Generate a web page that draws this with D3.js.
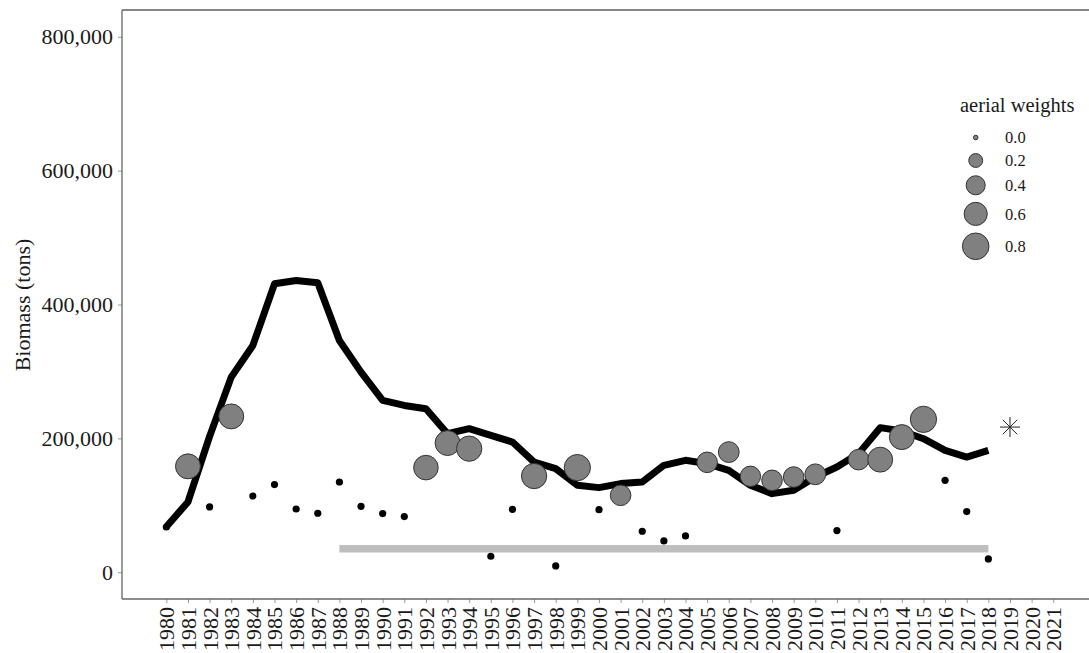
<!DOCTYPE html>
<html>
<head>
<meta charset="utf-8">
<script src="https://cdn.jsdelivr.net/npm/d3@7"></script>
<style>
  html, body { margin: 0; padding: 0; background: #fff; }
  svg { display: block; }
  text { font-family: "Liberation Serif", "Times New Roman", serif; }
</style>
</head>
<body>
<svg id="chart" width="1089" height="653"></svg>
<script>
// ---- data ----
const years = [1980,1981,1982,1983,1984,1985,1986,1987,1988,1989,1990,1991,1992,1993,1994,1995,1996,1997,1998,1999,
               2000,2001,2002,2003,2004,2005,2006,2007,2008,2009,2010,2011,2012,2013,2014,2015,2016,2017,2018];
const biomass = [68000,105000,203000,291500,338800,430900,435800,432400,346300,299000,256700,249200,244300,207000,214500,204500,194500,164600,154800,129800,
                 126400,132400,134800,159700,167200,162200,152200,129800,117400,122400,142300,157200,177200,216000,211000,199500,182000,172100,182000];

const aerialYears   = [1981,1983,1992,1993,1994,1997,1999,2001,2005,2006,2007,2008,2009,2010,2012,2013,2014,2015];
const aerialBiomass = [158200,232800,156300,193000,184600,143700,156300,114900,164200,179500,143300,137300,142200,146300,168200,168200,201900,228400];
const aerialWeights = [0.70,0.70,0.68,0.70,0.72,0.72,0.78,0.47,0.47,0.48,0.46,0.47,0.47,0.48,0.47,0.70,0.70,0.78];

const otherYears   = [1980,1982,1984,1985,1986,1987,1988,1989,1990,1991,1995,1996,1998,2000,2002,2003,2004,2011,2016,2017,2018];
const otherBiomass = [67600,97500,113900,130900,94500,88100,134800,98500,87600,83100,23900,94000,9400,93500,61200,46700,54200,62200,137300,90600,19900];

const barYears = [1988, 2018];
const barValue = 35000;

const starYear = 2019;
const starValue = 216900;

const xTickYears = [1980,1981,1982,1983,1984,1985,1986,1987,1988,1989,1990,1991,1992,1993,1994,1995,1996,1997,1998,1999,2000,
                    2001,2002,2003,2004,2005,2006,2007,2008,2009,2010,2011,2012,2013,2014,2015,2016,2017,2018,2019,2020,2021];
const yTicks = [0, 200000, 400000, 600000, 800000];
const legendWeights = [0.0, 0.2, 0.4, 0.6, 0.8];
const legendLabels = ["0.0", "0.2", "0.4", "0.6", "0.8"];

// ---- layout ----
const svg = d3.select("#chart");
const pLeft = 122, pTop = 10, pBottom = 599;
const x = d3.scaleLinear().domain([1977.95, 2023.05]).range([pLeft, 1097.6]);
const y = d3.scaleLinear().domain([-40000, 840000]).range([pBottom, pTop]);
const r = d3.scaleRadial().domain([0, 0.8]).range([2.3, 13.3]);

// axes
const yAxis = d3.axisLeft(y).tickValues(yTicks).tickSize(4).tickPadding(5)
  .tickFormat(d3.format(","));
const gy = svg.append("g").attr("transform", `translate(${pLeft},0)`).call(yAxis);
gy.select(".domain").remove();
gy.selectAll(".tick line").attr("stroke", "#9a9a9a");
gy.selectAll(".tick text").attr("font-size", 22).attr("fill", "#1a1a1a")
  .attr("font-family", "'Liberation Serif', serif");

const xAxis = d3.axisBottom(x).tickValues(xTickYears).tickSize(4).tickFormat(d3.format("d"));
const gx = svg.append("g").attr("transform", `translate(0,${pBottom})`).call(xAxis);
gx.select(".domain").remove();
gx.selectAll(".tick line").attr("stroke", "#9a9a9a");
gx.selectAll(".tick text")
  .attr("font-size", 22).attr("fill", "#1a1a1a")
  .attr("font-family", "'Liberation Serif', serif")
  .attr("transform", "rotate(-90)")
  .attr("text-anchor", "end")
  .attr("x", -8).attr("y", 0).attr("dy", "0.34em");

// panel lines
svg.append("line").attr("x1", pLeft).attr("x2", 1089).attr("y1", pTop).attr("y2", pTop)
  .attr("stroke", "#111").attr("stroke-width", 1.2);
svg.append("line").attr("x1", pLeft).attr("x2", pLeft).attr("y1", pTop).attr("y2", pBottom)
  .attr("stroke", "#666").attr("stroke-width", 1.3);
svg.append("line").attr("x1", pLeft).attr("x2", 1089).attr("y1", pBottom).attr("y2", pBottom)
  .attr("stroke", "#666").attr("stroke-width", 1.3);

// y title
svg.append("text")
  .attr("transform", `translate(30,${305}) rotate(-90)`)
  .attr("text-anchor", "middle")
  .attr("font-size", 22).attr("fill", "#1a1a1a")
  .text("Biomass (tons)");

// gray bar
svg.append("line")
  .attr("x1", x(barYears[0])).attr("x2", x(barYears[1]))
  .attr("y1", y(barValue)).attr("y2", y(barValue))
  .attr("stroke", "#bebebe").attr("stroke-width", 7.5);

// biomass line
const lineData = years.map((yr, i) => [yr, biomass[i]]);
svg.append("path")
  .datum(lineData)
  .attr("d", d3.line().x(d => x(d[0])).y(d => y(d[1])))
  .attr("fill", "none").attr("stroke", "#000").attr("stroke-width", 7)
  .attr("stroke-linejoin", "round");

// other index dots
svg.append("g").selectAll("circle")
  .data(otherYears.map((yr, i) => [yr, otherBiomass[i]]))
  .join("circle")
  .attr("cx", d => x(d[0])).attr("cy", d => y(d[1])).attr("r", 3.6)
  .attr("fill", "#000");

// aerial circles
svg.append("g").selectAll("circle")
  .data(aerialYears.map((yr, i) => [yr, aerialBiomass[i], aerialWeights[i]]))
  .join("circle")
  .attr("cx", d => x(d[0])).attr("cy", d => y(d[1])).attr("r", d => r(d[2]))
  .attr("fill", "#808080").attr("stroke", "#333").attr("stroke-width", 1);

// asterisk
const sx = x(starYear), sy = y(starValue), s = 10;
const star = svg.append("g").attr("transform", `translate(${sx},${sy})`)
  .attr("stroke", "#222").attr("stroke-width", 1);
[[0, -s, 0, s], [-s, 0, s, 0], [-s*0.72, -s*0.72, s*0.72, s*0.72], [-s*0.72, s*0.72, s*0.72, -s*0.72]]
  .forEach(l => star.append("line").attr("x1", l[0]).attr("y1", l[1]).attr("x2", l[2]).attr("y2", l[3]));

// legend
const lg = svg.append("g");
lg.append("text").attr("x", 960).attr("y", 112).attr("font-size", 20.5).attr("fill", "#1a1a1a")
  .text("aerial weights");
let cy = 126;
legendWeights.forEach((w, i) => {
  const kh = Math.max(23, 2 * r(w) + 7.5);
  const c = cy + kh / 2;
  lg.append("circle").attr("cx", 975.7).attr("cy", c).attr("r", r(w))
    .attr("fill", "#808080").attr("stroke", "#333").attr("stroke-width", 1);
  lg.append("text").attr("x", 1005).attr("y", c).attr("dy", "0.35em")
    .attr("font-size", 16.5).attr("fill", "#1a1a1a").text(legendLabels[i]);
  cy += kh;
});
</script>
</body>
</html>
